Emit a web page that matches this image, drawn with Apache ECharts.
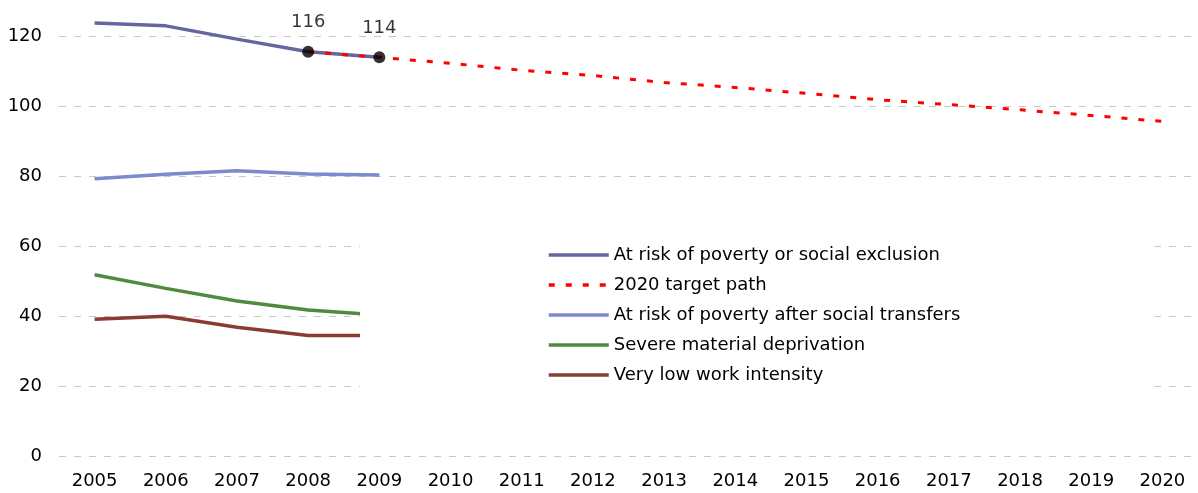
<!DOCTYPE html>
<html>
<head>
<meta charset="utf-8">
<script src="https://cdn.jsdelivr.net/npm/echarts@6/dist/echarts.min.js"></script>
<style>
html,body{margin:0;padding:0;background:#fff;}
#chart{width:1198px;height:493px;}
</style>
</head>
<body>
<div id="chart"></div>
<script>
const years = ['2005','2006','2007','2008','2009','2010','2011','2012','2013','2014','2015','2016','2017','2018','2019','2020'];
const seriesNames = ['At risk of poverty or social exclusion','2020 target path','At risk of poverty after social transfers','Severe material deprivation','Very low work intensity'];
const riskPovertyExclusion = [123.7, 122.9, 119.1, 115.5, 113.9];
const targetPath = [null, null, null, 115.5, 113.9, 112.2, 110.2, 108.7, 106.7, 105.3, 103.6, 101.8, 100.4, 98.9, 97.3, 95.6];
const riskAfterTransfers = [79.2, 80.5, 81.5, 80.6, 80.3];
const severeDeprivation = [51.8, 47.9, 44.3, 41.7, 40.3];
const lowWorkIntensity = [39.1, 39.9, 36.8, 34.4, 34.4];
const markedYears = ['2008', '2009'];
const markedLabels = ['116', '114'];
const yTicks = [0, 20, 40, 60, 80, 100, 120];

const colors = ['#66669f', '#ff0000', '#7b8bcb', '#4f8a3f', '#8b3c32'];
const font = 'DejaVu Sans, Liberation Sans, Arial, sans-serif';

const dotData = markedYears.map((y, i) => ({
  value: [y, riskPovertyExclusion[years.indexOf(y)]],
  label: { formatter: markedLabels[i] }
}));

const chart = echarts.init(document.getElementById('chart'));
chart.setOption({
  animation: false,
  backgroundColor: '#fff',
  textStyle: { fontFamily: font },
  grid: { left: 59, right: 0, top: 1, bottom: 37, containLabel: false },
  xAxis: {
    type: 'category',
    data: years,
    boundaryGap: true,
    axisLine: { show: false },
    axisTick: { show: false },
    axisLabel: { color: '#000', fontSize: 18, fontFamily: font, margin: 16 },
    splitLine: { show: false }
  },
  yAxis: {
    type: 'value',
    min: 0,
    max: 130,
    interval: 20,
    axisLine: { show: false },
    axisTick: { show: false },
    axisLabel: { color: '#000', fontSize: 18, fontFamily: font, margin: 17, showMaxLabel: false,
      formatter: v => (yTicks.indexOf(v) >= 0 ? String(v) : '') },
    splitLine: { show: true, showMaxLine: false, lineStyle: { color: '#c8c8c8', width: 1, type: [7, 8] } }
  },
  legend: {
    orient: 'vertical',
    left: 360,
    top: 228,
    data: seriesNames,
    backgroundColor: '#fff',
    padding: [17, 193, 17, 187],
    itemWidth: 60,
    itemHeight: 20,
    itemGap: 10,
    selectedMode: false,
    itemStyle: { color: 'rgba(0,0,0,0)', borderWidth: 0, opacity: 0 },
    lineStyle: { width: 3.5 },
    textStyle: { color: '#000', fontSize: 18, fontFamily: font, lineHeight: 20 }
  },
  series: [
    {
      name: seriesNames[0], type: 'line', data: riskPovertyExclusion,
      symbol: 'none', lineStyle: { color: colors[0], width: 3.5 }, itemStyle: { color: colors[0] }, z: 2
    },
    {
      name: seriesNames[2], type: 'line', data: riskAfterTransfers,
      symbol: 'none', lineStyle: { color: colors[2], width: 3.5 }, itemStyle: { color: colors[2] }, z: 2
    },
    {
      name: seriesNames[3], type: 'line', data: severeDeprivation,
      symbol: 'none', lineStyle: { color: colors[3], width: 3.5 }, itemStyle: { color: colors[3] }, z: 2
    },
    {
      name: seriesNames[4], type: 'line', data: lowWorkIntensity,
      symbol: 'none', lineStyle: { color: colors[4], width: 3.5 }, itemStyle: { color: colors[4] }, z: 2
    },
    {
      name: seriesNames[1], type: 'line', data: targetPath,
      symbol: 'none', lineStyle: { color: colors[1], width: 3, type: [6, 11] }, itemStyle: { color: colors[1] }, z: 2
    },
    {
      name: 'markers', type: 'scatter', data: dotData,
      symbol: 'circle', symbolSize: 12, itemStyle: { color: '#000' }, z: 3,
      label: { show: true, position: 'top', distance: 14, color: '#000', fontSize: 18, fontFamily: font }
    }
  ]
});
</script>
</body>
</html>
